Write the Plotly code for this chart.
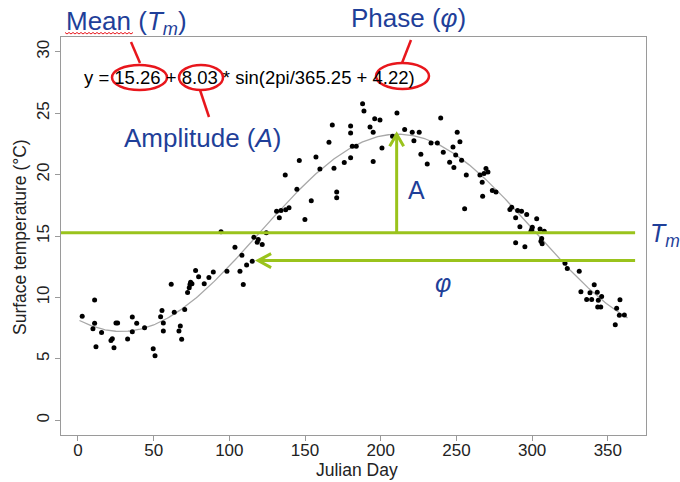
import numpy as np
import plotly.graph_objects as go

# ---------------- data ----------------
day = [2.8, 11.0, 11.0, 9.9, 15.6, 11.9, 25.1, 26.2, 35.9, 38.8, 35.9, 22.7, 21.8, 23.8, 32.8, 44.0, 49.7, 50.9,
       94.5, 103.7, 108.3, 111.4, 107.0, 109.2, 98.4, 89.4, 86.5, 83.4, 77.7, 79.7, 74.4, 75.3, 74.0, 73.5, 72.4,
       61.6, 70.5, 63.6, 55.5, 54.6, 56.4, 56.4, 67.6, 66.7, 68.5,
       165.8, 157.2, 146.2, 159.8, 136.9, 144.6, 154.1, 139.4, 137.2, 134.1, 131.2, 133.0, 149.9, 124.4, 116.2,
       119.1, 118.4, 121.7, 115.1,
       188.0, 188.9, 210.7, 168.0, 180.1, 180.1, 196.0, 199.5, 192.9, 195.0, 207.8, 215.8, 181.2, 183.8, 200.8,
       180.1, 175.9, 195.0, 169.1, 170.9, 170.9,
       239.6, 220.8, 225.4, 221.9, 250.5, 233.2, 237.4, 252.3, 247.7, 241.3, 249.5, 226.5, 253.4, 245.5, 230.7,
       248.3, 256.5, 265.5, 268.2, 269.5, 267.0, 267.3, 255.4,
       270.8, 273.7, 276.1, 286.5, 285.3, 290.4, 293.0, 296.4, 289.1, 303.0, 291.9, 300.1, 299.7, 299.2, 305.2,
       308.0, 306.3, 305.8, 306.6, 289.1, 295.2, 321.7, 323.2,
       331.1, 341.0, 332.2, 338.2, 343.0, 345.9, 343.7, 336.0, 339.3, 358.0, 343.3, 345.3, 355.8, 357.6, 360.9, 354.9]
temp = [8.46, 9.78, 7.89, 7.45, 7.15, 5.99, 7.91, 7.91, 8.40, 7.89, 7.21, 6.64, 6.50, 5.91, 6.61, 7.54, 5.83, 5.26,
        15.34, 14.09, 13.44, 12.63, 12.14, 11.06, 12.14, 12.06, 11.63, 11.11, 12.20, 11.68, 11.24, 11.11, 11.06, 10.79, 10.41,
        11.08, 9.02, 8.80, 8.94, 8.43, 7.91, 7.26, 7.67, 7.26, 6.59,
        22.63, 21.44, 21.14, 20.46, 19.97, 18.81, 17.86, 17.29, 17.13, 17.07, 17.02, 16.48, 16.34, 15.26, 14.90,
        14.72, 14.50, 14.31, 12.95,
        25.77, 25.18, 25.01, 24.04, 23.96, 23.39, 24.55, 24.45, 23.87, 23.44, 23.12, 23.66, 22.30, 22.30, 22.17,
        21.36, 20.98, 21.06, 20.51, 18.59, 18.11,
        24.61, 23.44, 23.44, 22.76, 23.44, 22.58, 22.58, 22.68, 22.25, 21.81, 21.60, 21.65, 21.16, 21.00, 20.87,
        20.57, 19.97, 19.97, 20.08, 20.49, 19.38, 18.24, 17.21,
        20.20, 18.70, 18.59, 17.34, 17.15, 17.07, 17.02, 16.75, 16.48, 16.40, 15.75, 15.72, 15.53, 15.39, 15.58,
        15.39, 14.80, 14.58, 14.37, 14.45, 14.12, 12.79, 12.36,
        12.14, 11.03, 10.46, 10.38, 10.43, 10.08, 9.76, 9.84, 9.84, 9.81, 9.21, 9.21, 9.11, 8.54, 8.56, 7.78]

# fitted model parameters (shown in the chart's equation)
T_mean = 15.26
amplitude = 8.03
period = 365.25
phase = 4.22
fit_days = np.arange(1, 364)
fit_vals = T_mean + amplitude * np.sin(2 * np.pi / period * fit_days + phase)

x_ticks = [0, 50, 100, 150, 200, 250, 300, 350]
y_ticks = [0, 5, 10, 15, 20, 25, 30]

# ---------------- layout helpers ----------------
W, H = 680, 482
L, R, T, B = 61, 646, 37, 435
XR = [-11.2, 375.2]
YR = [-1.2, 31.2]


def xp(px):
    return (px - L) / (R - L)


def yp(py):
    return (B - py) / (B - T)


GREEN = "#9AC31C"
BLUE = "#1F3F99"
RED = "#E8161C"
FONT = "Liberation Sans, Arial, sans-serif"

fig = go.Figure()
fig.add_trace(go.Scatter(x=fit_days, y=fit_vals, mode="lines",
                         line=dict(color="#A8A8A8", width=1.3), hoverinfo="skip"))
fig.add_trace(go.Scatter(x=day, y=temp, mode="markers",
                         marker=dict(color="black", size=5)))

shapes = []
phase_tip_day = 119.0
line_end_day = 368.0
arrow_y = 13.0
peak_day = 210.5
# Tm line
shapes.append(dict(type="line", xref="x", yref="y", x0=XR[0], x1=line_end_day, y0=T_mean, y1=T_mean,
                   line=dict(color=GREEN, width=3)))
# phase arrow
shapes.append(dict(type="line", xref="x", yref="y", x0=phase_tip_day, x1=line_end_day, y0=arrow_y, y1=arrow_y,
                   line=dict(color=GREEN, width=3)))
ax, ay = 13 / ((R - L) / (XR[1] - XR[0])), 7 / ((B - T) / (YR[1] - YR[0]))
shapes.append(dict(type="path", xref="x", yref="y",
                   path=f"M {phase_tip_day + ax} {arrow_y + ay} L {phase_tip_day} {arrow_y} L {phase_tip_day + ax} {arrow_y - ay}",
                   line=dict(color=GREEN, width=3)))
# amplitude arrow
peak_val = T_mean + amplitude
shapes.append(dict(type="line", xref="x", yref="y", x0=peak_day, x1=peak_day, y0=T_mean, y1=peak_val,
                   line=dict(color=GREEN, width=3)))
bx, by = 7 / ((R - L) / (XR[1] - XR[0])), 12 / ((B - T) / (YR[1] - YR[0]))
shapes.append(dict(type="path", xref="x", yref="y",
                   path=f"M {peak_day - bx} {peak_val - by} L {peak_day} {peak_val} L {peak_day + bx} {peak_val - by}",
                   line=dict(color=GREEN, width=3)))

# red ellipses and pointer lines
for (x0, x1, y0, y1) in [(112, 167, 65, 90), (179, 223, 65, 90), (376, 429, 63, 89)]:
    shapes.append(dict(type="circle", xref="paper", yref="paper", x0=xp(x0), x1=xp(x1), y0=yp(y1), y1=yp(y0),
                       line=dict(color=RED, width=2.5)))
for (x0, y0, x1, y1) in [(131, 42, 140, 63), (200, 90, 209, 117), (411, 40, 402, 63)]:
    shapes.append(dict(type="line", xref="paper", yref="paper", x0=xp(x0), x1=xp(x1), y0=yp(y0), y1=yp(y1),
                       line=dict(color=RED, width=2.5)))
# spell-check squiggle under "Mean"
zz = []
for i, px in enumerate(np.arange(65, 134, 2)):
    zz.append(f"{'M' if i == 0 else 'L'} {xp(px):.5f} {yp(33 + (1 if i % 2 else -0.5)):.5f}")
shapes.append(dict(type="path", xref="paper", yref="paper", path=" ".join(zz), line=dict(color=RED, width=1)))

annotations = [
    dict(text="y = 15.26 + 8.03 * sin(2pi/365.25 + 4.22)", x=xp(82), y=yp(78), xanchor="left", yanchor="middle",
         font=dict(size=18.5, color="black")),
    dict(text="Mean (<i>T</i><sub><i>m</i></sub>)", x=xp(64), y=yp(22), xanchor="left", yanchor="middle",
         font=dict(size=26, color=BLUE)),
    dict(text="Amplitude (<i>A</i>)", x=xp(122), y=yp(138), xanchor="left", yanchor="middle",
         font=dict(size=26, color=BLUE)),
    dict(text="Phase (<i>φ</i>)", x=xp(349), y=yp(18), xanchor="left", yanchor="middle",
         font=dict(size=26, color=BLUE)),
    dict(text="A", x=xp(416), y=yp(190), xanchor="center", yanchor="middle",
         font=dict(size=25, color=BLUE)),
    dict(text="<i>φ</i>", x=xp(443), y=yp(283), xanchor="center", yanchor="middle",
         font=dict(size=25, color=BLUE)),
    dict(text="<i>T</i><sub><i>m</i></sub>", x=xp(648), y=yp(235), xanchor="left", yanchor="middle",
         font=dict(size=25, color=BLUE)),
    # axis titles
    dict(text="Julian Day", x=xp(357), y=yp(470), xanchor="center", yanchor="middle",
         font=dict(size=17.5, color="#222")),
    dict(text="Surface temperature (°C)", x=xp(20), y=yp(237), xanchor="center", yanchor="middle",
         textangle=-90, font=dict(size=17.5, color="#222")),
]
for a in annotations:
    a.update(xref="paper", yref="paper", showarrow=False)

axis_common = dict(showline=True, mirror=True, linecolor="#9A9A9A", linewidth=1.3, ticks="outside",
                   ticklen=5, tickcolor="#9A9A9A", tickwidth=1.3, showgrid=False, zeroline=False,
                   automargin=False, tickfont=dict(size=17, color="#222"))

fig.update_layout(
    width=W, height=H, margin=dict(l=L, r=W - R, t=T, b=H - B),
    paper_bgcolor="white", plot_bgcolor="white", showlegend=False,
    font=dict(family=FONT),
    shapes=shapes, annotations=annotations,
    xaxis=dict(range=XR, tickvals=x_ticks, ticklabelstandoff=-6, **axis_common),
    yaxis=dict(range=YR, tickvals=y_ticks, tickangle=-90, ticklabelstandoff=-1, **axis_common),
)

fig.write_html("out.html")
